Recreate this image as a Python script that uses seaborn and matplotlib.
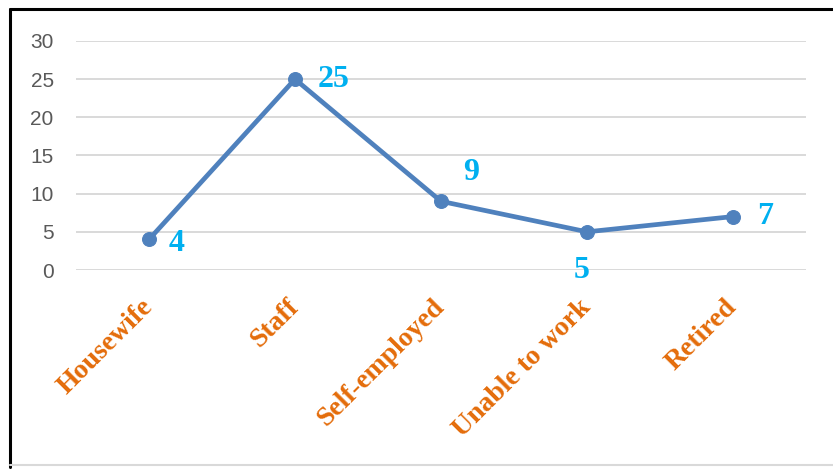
import matplotlib
matplotlib.use("Agg")
import matplotlib.pyplot as plt
import seaborn as sns
import pandas as pd
from matplotlib.lines import Line2D

categories = ["Housewife", "Staff", "Self-employed", "Unable to work", "Retired"]
counts = [4, 25, 9, 5, 7]
label_offsets = [(20, -3), (28, 0), (22, 21), (-4, -28), (23, 0)]

sns.set_style("white")
plt.rcParams['font.family'] = ['Liberation Sans', 'DejaVu Sans']

df = pd.DataFrame({"job": categories, "count": counts})

fig = plt.figure(figsize=(8.33, 4.69), dpi=100)
ax = fig.add_axes([0.0912, 0.4243, 0.8764, 0.4883])

sns.lineplot(data=df, x="job", y="count", ax=ax, color="#4F81BD", linewidth=3.4,
             marker="o", markersize=10, markeredgecolor="#4F81BD", sort=False)
for line in ax.lines:
    line.set_clip_on(False)
    line.set_zorder(5)

ax.set_xlim(-0.5, len(categories) - 0.5)
ax.set_ylim(0, 30)
ax.set_yticks(range(0, 31, 5))
ax.yaxis.grid(True, color="#D9D9D9", linewidth=1.4)
ax.set_axisbelow(True)
for s in ax.spines.values():
    s.set_visible(False)
ax.set_xlabel("")
ax.set_ylabel("")
ax.tick_params(axis="y", length=0, pad=16, labelsize=15, labelcolor="#595959")
ax.tick_params(axis="x", length=0, pad=24)
ax.set_xticks(range(len(categories)))
ax.set_xticklabels(categories, rotation=45, ha="right", va="center",
                   rotation_mode="anchor", color="#E46C0A", fontsize=20,
                   fontweight="bold", family="Liberation Serif")

for i, (v, off) in enumerate(zip(counts, label_offsets)):
    ax.annotate(str(v), (i, v), xytext=off, textcoords="offset points",
                ha="center", va="center", color="#00B0F0", fontsize=23,
                fontweight="bold", family="Liberation Serif")

# frame around the chart
fig.add_artist(Line2D([0.012, 0.012], [0.005, 0.98], color="black", linewidth=2.2))
fig.add_artist(Line2D([0.012, 1.0], [0.98, 0.98], color="black", linewidth=2.2))
fig.add_artist(Line2D([0.012, 1.0], [0.009, 0.009], color="#D9D9D9", linewidth=1.5))

fig.savefig("out.png", dpi=100)
